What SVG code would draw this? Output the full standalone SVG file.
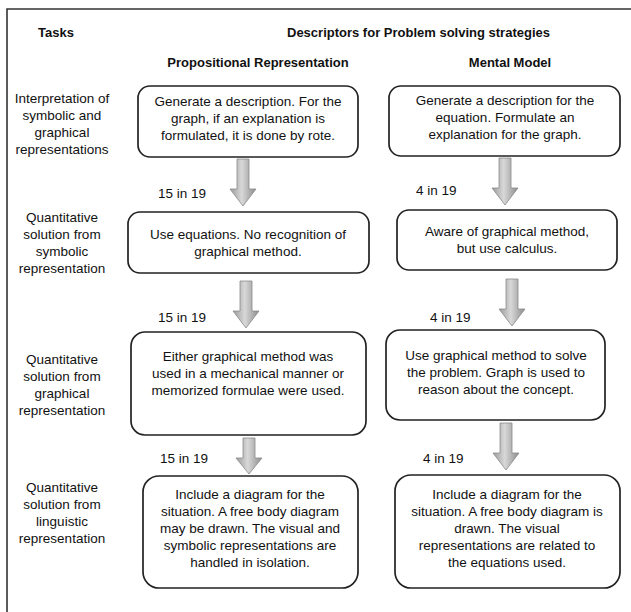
<svg xmlns="http://www.w3.org/2000/svg" width="631" height="612" viewBox="0 0 631 612">
<style>
text{font-family:"Liberation Sans",Arial,sans-serif;font-size:13.5px;fill:#111}
.h{font-weight:bold;font-size:13px}
.c{text-anchor:middle}
.box{fill:#fff;stroke:#222;stroke-width:1.7}
.arr{fill:url(#g);stroke:#8a8a8a;stroke-width:0.8}
</style>
<defs>
<linearGradient id="g" x1="0" y1="0" x2="1" y2="0">
<stop offset="0" stop-color="#9a9a9a"/>
<stop offset="0.45" stop-color="#d8d8d8"/>
<stop offset="1" stop-color="#8c8c8c"/>
</linearGradient>
<path id="a" d="M-6 0H6V30H13L0 47L-13 30H-6Z"/>
<path id="s" d="M-6 0H6V20H13L0 36L-13 20H-6Z"/>
</defs>
<rect width="631" height="612" fill="#fff"/>
<path d="M7 612V9H631" fill="none" stroke="#333" stroke-width="1.6"/>
<g id="headers">
<text class="h" x="38" y="37">Tasks</text>
<text class="h" x="287" y="37">Descriptors for Problem solving strategies</text>
<text class="h c" x="258" y="67">Propositional Representation</text>
<text class="h c" x="510" y="67">Mental Model</text>
</g>
<g id="task1" class="c">
<text x="62" y="103">Interpretation of</text>
<text x="62" y="120">symbolic and</text>
<text x="62" y="137">graphical</text>
<text x="62" y="154">representations</text>
</g>
<g id="task2" class="c">
<text x="62" y="222">Quantitative</text>
<text x="62" y="239">solution from</text>
<text x="62" y="256">symbolic</text>
<text x="62" y="273">representation</text>
</g>
<g id="task3" class="c">
<text x="62" y="364">Quantitative</text>
<text x="62" y="381">solution from</text>
<text x="62" y="398">graphical</text>
<text x="62" y="415">representation</text>
</g>
<g id="task4" class="c">
<text x="62" y="492">Quantitative</text>
<text x="62" y="509">solution from</text>
<text x="62" y="526">linguistic</text>
<text x="62" y="543">representation</text>
</g>
<g id="p1">
<rect class="box" x="138" y="86" width="220" height="71" rx="12"/>
<text class="c" x="248" y="106">Generate a description. For the</text>
<text class="c" x="248" y="123">graph, if an explanation is</text>
<text class="c" x="248" y="140">formulated, it is done by rote.</text>
</g>
<g id="m1">
<rect class="box" x="389" y="86" width="231" height="70" rx="12"/>
<text class="c" x="505" y="105">Generate a description for the</text>
<text class="c" x="505" y="122">equation. Formulate an</text>
<text class="c" x="505" y="139">explanation for the graph.</text>
</g>
<g id="p2">
<rect class="box" x="128" y="212" width="241" height="61" rx="12"/>
<text class="c" x="248" y="239">Use equations. No recognition of</text>
<text class="c" x="248" y="256">graphical method.</text>
</g>
<g id="m2">
<rect class="box" x="397" y="210" width="220" height="60" rx="12"/>
<text class="c" x="507" y="236">Aware of graphical method,</text>
<text class="c" x="507" y="253">but use calculus.</text>
</g>
<g id="p3">
<rect class="box" x="131" y="332" width="235" height="103" rx="14"/>
<text class="c" x="248" y="361">Either graphical method was</text>
<text class="c" x="248" y="378">used in a mechanical manner or</text>
<text class="c" x="248" y="395">memorized formulae were used.</text>
</g>
<g id="m3">
<rect class="box" x="386" y="330" width="219" height="90" rx="14"/>
<text class="c" x="496" y="360">Use graphical method to solve</text>
<text class="c" x="496" y="377">the problem. Graph is used to</text>
<text class="c" x="496" y="394">reason about the concept.</text>
</g>
<g id="p4">
<rect class="box" x="143" y="476" width="215" height="112" rx="16"/>
<text class="c" x="250" y="499">Include a diagram for the</text>
<text class="c" x="250" y="516">situation. A free body diagram</text>
<text class="c" x="250" y="533">may be drawn. The visual and</text>
<text class="c" x="250" y="550">symbolic representations are</text>
<text class="c" x="250" y="567">handled in isolation.</text>
</g>
<g id="m4">
<rect class="box" x="395" y="475" width="225" height="113" rx="16"/>
<text class="c" x="507" y="499">Include a diagram for the</text>
<text class="c" x="507" y="516">situation. A free body diagram is</text>
<text class="c" x="507" y="533">drawn. The visual</text>
<text class="c" x="507" y="550">representations are related to</text>
<text class="c" x="507" y="567">the equations used.</text>
</g>
<g id="connectors">
<use href="#a" class="arr" transform="translate(243 159)"/>
<use href="#a" class="arr" transform="translate(505 158)"/>
<use href="#a" class="arr" transform="translate(246 281)"/>
<use href="#a" class="arr" transform="translate(512 279)"/>
<use href="#s" class="arr" transform="translate(249 438)"/>
<use href="#a" class="arr" transform="translate(506 423)"/>
<text x="158" y="198">15 in 19</text>
<text x="416" y="195">4 in 19</text>
<text x="158" y="322">15 in 19</text>
<text x="430" y="322">4 in 19</text>
<text x="160" y="463">15 in 19</text>
<text x="423" y="463">4 in 19</text>
</g>
</svg>
